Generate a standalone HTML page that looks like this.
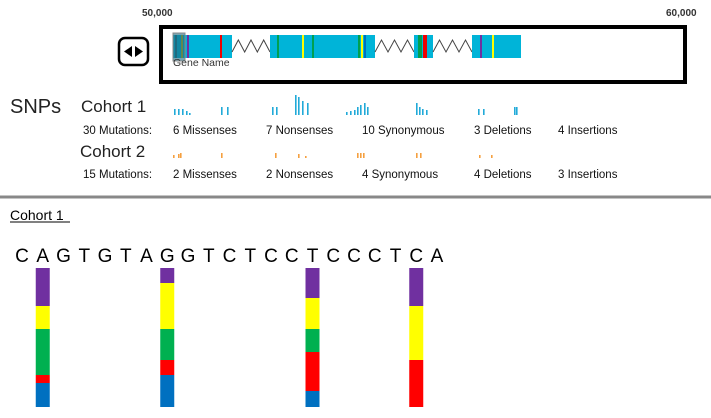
<!DOCTYPE html>
<html><head><meta charset="utf-8"><style>
body{margin:0;width:711px;height:413px;background:#fff;overflow:hidden;font-family:"Liberation Sans",sans-serif;}
svg text{font-family:"Liberation Sans",sans-serif;}
</style></head><body>
<svg width="711" height="413">
<g>
 <text x="142" y="16" font-size="10" font-weight="bold" fill="#333">50,000</text>
 <text x="666" y="16" font-size="10" font-weight="bold" fill="#333">60,000</text>
 <rect x="119" y="38" width="29" height="27" rx="6" fill="#fff" stroke="#000" stroke-width="2.5"/>
 <polygon points="124,51.5 132,46 132,57" fill="#000"/>
 <polygon points="143,51.5 135,46 135,57" fill="#000"/>
 <rect x="161" y="27" width="524" height="55" fill="#fff" stroke="#000" stroke-width="4"/>
 <g id="exons"></g>
 <rect x="173" y="33" width="12" height="28" fill="#1e6b80" fill-opacity="0.6" stroke="#888"/>
 <text x="173" y="66" font-size="10.5" fill="#333">Gene Name</text>
</g>
<line x1="0" y1="197" x2="711" y2="197" stroke="#888" stroke-width="3"/>
<g>
 <text x="10" y="113" font-size="20" fill="#222">SNPs</text>
 <text x="81" y="112" font-size="17" fill="#222">Cohort 1</text>
 <text x="80" y="157" font-size="17" fill="#222">Cohort 2</text>
 <g id="snp1"></g><g id="snp2"></g><g id="summ"></g>
</g>
<text x="10" y="220" font-size="14" fill="#000">Cohort 1</text>
<line x1="10" y1="222" x2="70" y2="222" stroke="#000" stroke-width="1"/>
<g id="seq"></g><g id="bars"></g>
</svg>
<script>
const NS="http://www.w3.org/2000/svg";
function mk(t,a,p){const e=document.createElementNS(NS,t);for(const k in a)e.setAttribute(k,a[k]);p.appendChild(e);return e;}
const exonStart=[173,270,414,472], exonEnd=[232,375,433,521];
const markPos=[175,181,187,220,277,302,312,358,361,364,418,420,423,425,480,492];
const markCol=["#1e6b80","#c8b400","#7030a0","#e00","#00a050","#ff0","#00a050","#00a050","#ff0","#0070c0","#00a050","#00a050","#e00","#e00","#7030a0","#ff0"];
const ex=document.getElementById('exons');
exonStart.forEach((s,i)=>{const r=mk('rect',{x:s,y:35,width:exonEnd[i]-s,height:23,fill:'#00b4d8'},ex);

if(i<exonStart.length-1){let a=exonEnd[i],b=exonStart[i+1],n=3,pts=[];for(let k=0;k<=n*2;k++){pts.push((a+(b-a)*k/(n*2))+','+(k%2?40:52));}
const pl=mk('polyline',{points:pts.join(' '),fill:'none',stroke:'#444','stroke-width':1},ex);
}});
markPos.forEach((x,i)=>{const r=mk('rect',{x:x,y:35,width:2,height:23,fill:markCol[i]},ex);
});
const c1x=[174,178,182,186,189,221,227,272,276,295,298,302,307,346,350,354,357,360,364,367,416,419,422,426,478,483,514,516];
const c1h=[6,6,6,4,2,8,8,8,8,20,18,14,12,3,4,5,8,10,12,8,12,8,6,5,6,6,8,8];
const c2x=[173,178,180,221,275,298,305,357,360,363,416,420,479,491];
const c2h=[3,4,5,5,5,4,2,5,5,5,5,5,3,3];
const s1=document.getElementById('snp1'),s2=document.getElementById('snp2');
c1x.forEach((x,i)=>{const r=mk('rect',{x:x,y:115-c1h[i],width:1.6,height:c1h[i],fill:'#22aad8'},s1);
});
c2x.forEach((x,i)=>{const r=mk('rect',{x:x,y:158-c2h[i],width:1.6,height:c2h[i],fill:'#f5a040'},s2);
});
const sumX=[83,173,266,362,474,558];
const sum1=["30 Mutations:","6 Missenses","7 Nonsenses","10 Synonymous","3 Deletions","4 Insertions"];
const sum2=["15 Mutations:","2 Missenses","2 Nonsenses","4 Synonymous","4 Deletions","3 Insertions"];
const sg=document.getElementById('summ');
[[sum1,134],[sum2,178]].forEach(([arr,y],ri)=>arr.forEach((t,i)=>{const e=mk('text',{x:sumX[i],y:y,'font-size':11.5,fill:'#111'},sg);e.textContent=t;
}));
const seq="CAGTGTAGGTCTCCTCCCTCA".split("");
const sq=document.getElementById('seq');
seq.forEach((c,i)=>{const e=mk('text',{x:22+i*20.75,y:262,'font-size':19,'text-anchor':'middle',fill:'#000'},sq);e.textContent=c;
});
const barIndex=[1,7,14,19];
const purple=[38,15,30,38], yellow=[23,46,31,54], green=[46,31,23,0], red=[8,15,39,47], blue=[24,32,16,0];
const series=[["purple",purple,"#7030a0"],["yellow",yellow,"#ffff00"],["green",green,"#00b050"],["red",red,"#ff0000"],["blue",blue,"#0070c0"]];
const bg=document.getElementById('bars');
const top0=268, scale=1.0;
barIndex.forEach((bi,j)=>{let y=top0;const cx=22+bi*20.75;
series.forEach(([nm,arr,col])=>{const h=arr[j]*scale;if(h>0){const r=mk('rect',{x:cx-7,y:y,width:14,height:h,fill:col},bg);
}y+=h;});});
</script>
</body></html>
